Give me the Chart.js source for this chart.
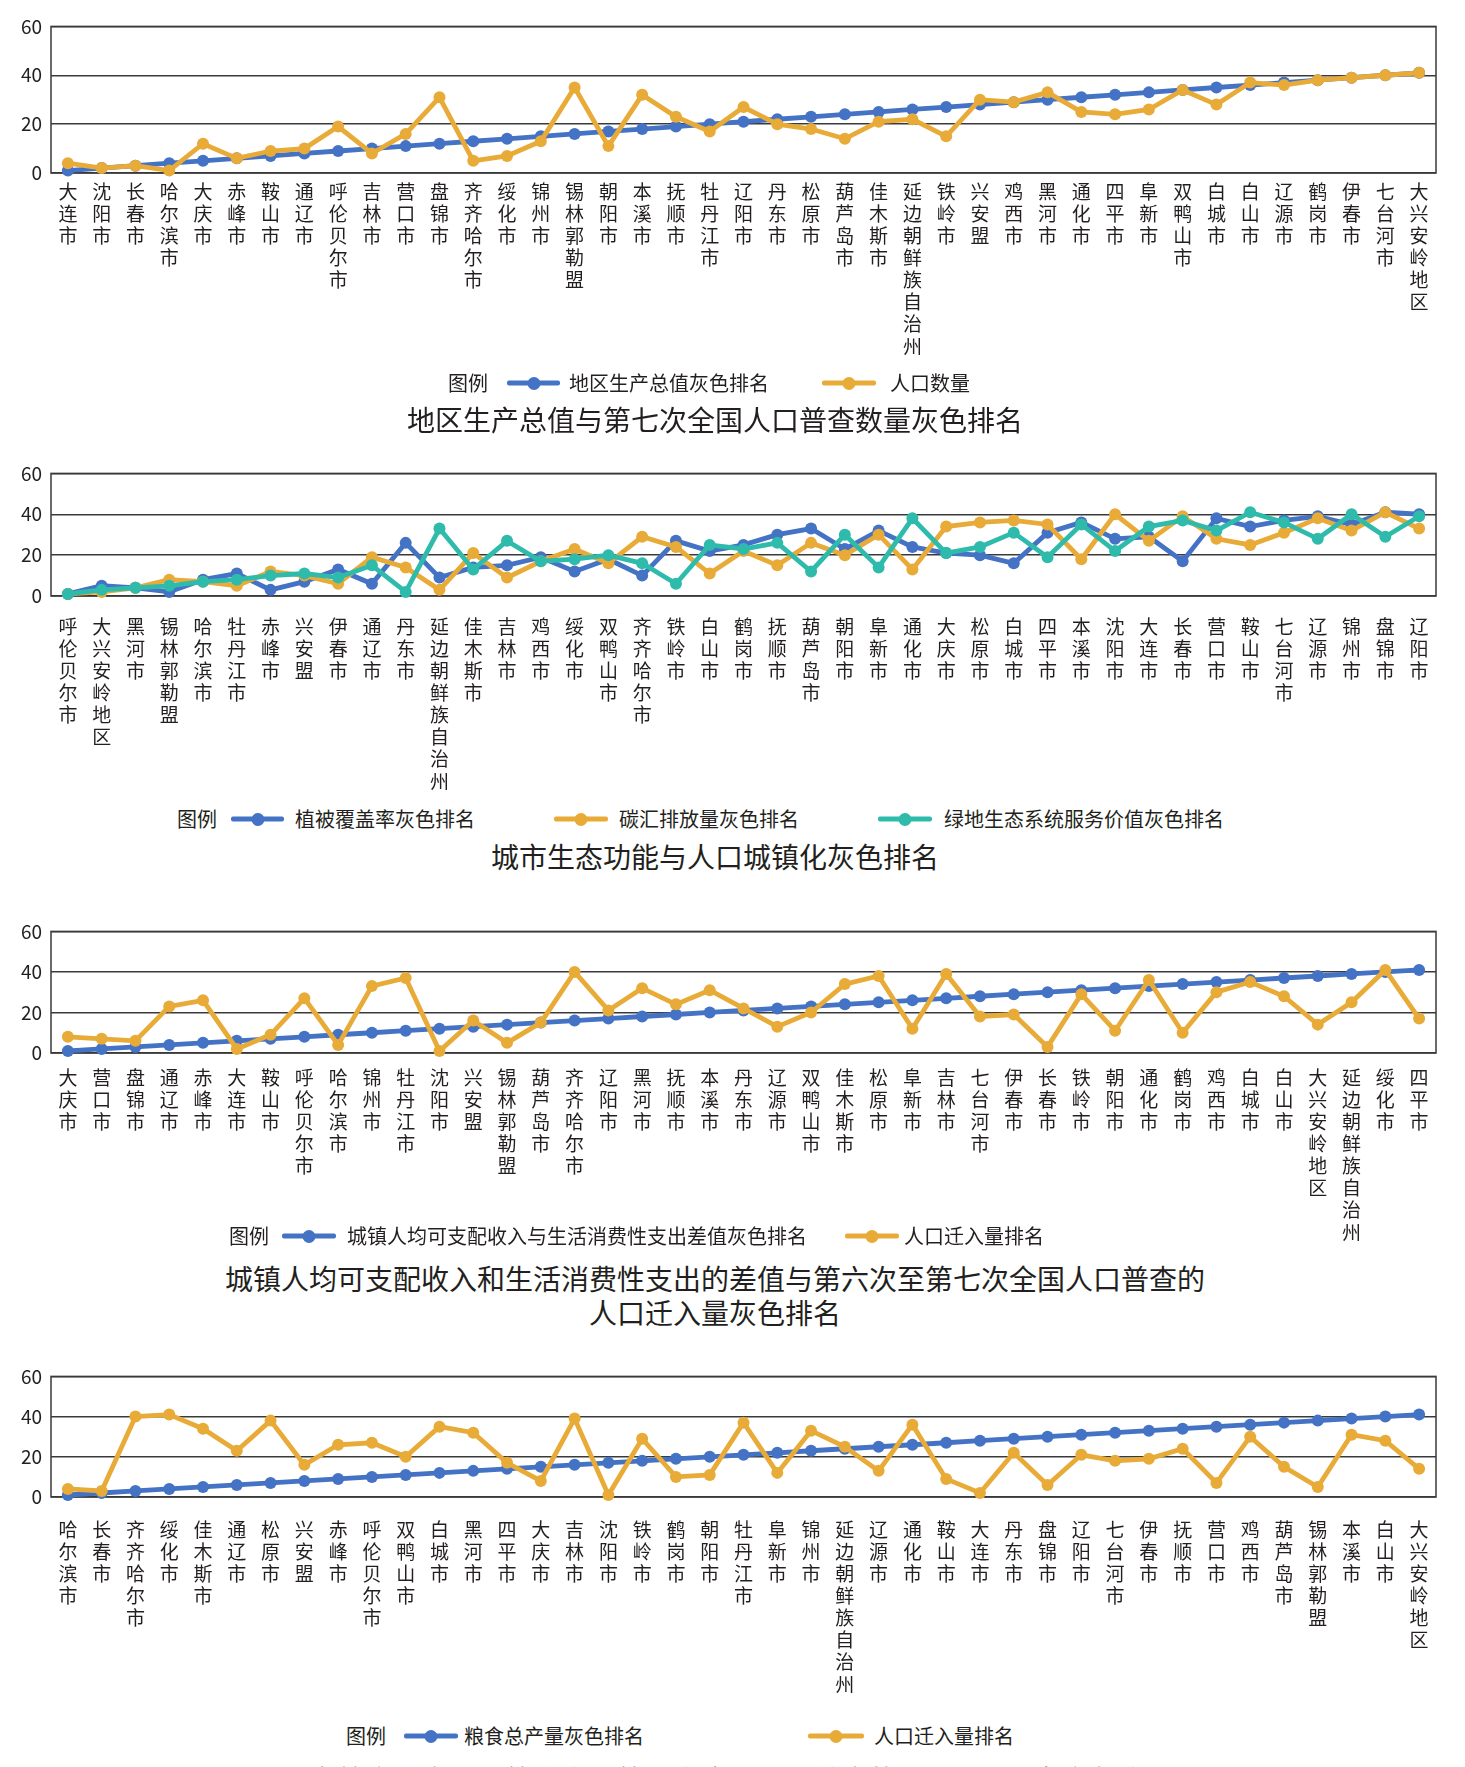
<!DOCTYPE html>
<html>
<head>
<meta charset="utf-8">
<script src="https://cdn.jsdelivr.net/npm/chart.js@4.4.1/dist/chart.umd.min.js"></script>
<style>
  html,body{margin:0;padding:0;}
  body{width:1465px;height:1767px;overflow:hidden;background:#fff;position:relative;
       font-family:'Noto Sans CJK SC','Noto Sans',sans-serif;color:#231f20;}
  canvas{position:absolute;left:0;}
  .t{position:absolute;font-size:28px;white-space:nowrap;transform:translate(-50%,-50%);line-height:1;}
  .lg{position:absolute;font-size:20px;white-space:nowrap;transform:translateY(-50%);line-height:1;}
  .mk{position:absolute;height:5px;transform:translateY(-50%);border-radius:2px;}
  .mk::after{content:'';position:absolute;left:50%;top:50%;width:13px;height:13px;border-radius:50%;
       background:inherit;transform:translate(-50%,-50%);}
</style>
</head>
<body>
<canvas id="c1"></canvas>
<canvas id="c2"></canvas>
<canvas id="c3"></canvas>
<canvas id="c4"></canvas>
<script>
// ---------- DATA ----------
const cities1 = ['大连市','沈阳市','长春市','哈尔滨市','大庆市','赤峰市','鞍山市','通辽市','呼伦贝尔市','吉林市','营口市','盘锦市','齐齐哈尔市','绥化市','锦州市','锡林郭勒盟','朝阳市','本溪市','抚顺市','牡丹江市','辽阳市','丹东市','松原市','葫芦岛市','佳木斯市','延边朝鲜族自治州','铁岭市','兴安盟','鸡西市','黑河市','通化市','四平市','阜新市','双鸭山市','白城市','白山市','辽源市','鹤岗市','伊春市','七台河市','大兴安岭地区'];
const gdpRank1 = [1,2,3,4,5,6,7,8,9,10,11,12,13,14,15,16,17,18,19,20,21,22,23,24,25,26,27,28,29,30,31,32,33,34,35,36,37,38,39,40,41];
const popRank1 = [4,2,3,1,12,6,9,10,19,8,16,31,5,7,13,35,11,32,23,17,27,20,18,14,21,22,15,30,29,33,25,24,26,34,28,37,36,38,39,40,41];

const cities2 = ['呼伦贝尔市','大兴安岭地区','黑河市','锡林郭勒盟','哈尔滨市','牡丹江市','赤峰市','兴安盟','伊春市','通辽市','丹东市','延边朝鲜族自治州','佳木斯市','吉林市','鸡西市','绥化市','双鸭山市','齐齐哈尔市','铁岭市','白山市','鹤岗市','抚顺市','葫芦岛市','朝阳市','阜新市','通化市','大庆市','松原市','白城市','四平市','本溪市','沈阳市','大连市','长春市','营口市','鞍山市','七台河市','辽源市','锦州市','盘锦市','辽阳市'];
const vegRank2 = [1,5,4,2,8,11,3,7,13,6,26,9,14,15,19,12,18,10,27,22,25,30,33,23,32,24,21,20,16,31,36,28,29,17,38,34,37,39,35,41,40];
const carbonRank2 = [1,2,4,8,7,5,12,10,6,19,14,3,21,9,17,23,16,29,24,11,22,15,26,20,30,13,34,36,37,35,18,40,27,39,28,25,31,38,32,41,33];
const greenRank2 = [1,3,4,5,7,8,10,11,9,15,2,33,13,27,17,18,20,16,6,25,23,26,12,30,14,38,21,24,31,19,35,22,34,37,32,41,36,28,40,29,39];

const cities3 = ['大庆市','营口市','盘锦市','通辽市','赤峰市','大连市','鞍山市','呼伦贝尔市','哈尔滨市','锦州市','牡丹江市','沈阳市','兴安盟','锡林郭勒盟','葫芦岛市','齐齐哈尔市','辽阳市','黑河市','抚顺市','本溪市','丹东市','辽源市','双鸭山市','佳木斯市','松原市','阜新市','吉林市','七台河市','伊春市','长春市','铁岭市','朝阳市','通化市','鹤岗市','鸡西市','白城市','白山市','大兴安岭地区','延边朝鲜族自治州','绥化市','四平市'];
const incomeRank3 = [1,2,3,4,5,6,7,8,9,10,11,12,13,14,15,16,17,18,19,20,21,22,23,24,25,26,27,28,29,30,31,32,33,34,35,36,37,38,39,40,41];
const migrRank3 = [8,7,6,23,26,2,9,27,4,33,37,1,16,5,15,40,21,32,24,31,22,13,20,34,38,12,39,18,19,3,29,11,36,10,30,35,28,14,25,41,17];

const cities4 = ['哈尔滨市','长春市','齐齐哈尔市','绥化市','佳木斯市','通辽市','松原市','兴安盟','赤峰市','呼伦贝尔市','双鸭山市','白城市','黑河市','四平市','大庆市','吉林市','沈阳市','铁岭市','鹤岗市','朝阳市','牡丹江市','阜新市','锦州市','延边朝鲜族自治州','辽源市','通化市','鞍山市','大连市','丹东市','盘锦市','辽阳市','七台河市','伊春市','抚顺市','营口市','鸡西市','葫芦岛市','锡林郭勒盟','本溪市','白山市','大兴安岭地区'];
const grainRank4 = [1,2,3,4,5,6,7,8,9,10,11,12,13,14,15,16,17,18,19,20,21,22,23,24,25,26,27,28,29,30,31,32,33,34,35,36,37,38,39,40,41];
const migrRank4 = [4,3,40,41,34,23,38,16,26,27,20,35,32,17,8,39,1,29,10,11,37,12,33,25,13,36,9,2,22,6,21,18,19,24,7,30,15,5,31,28,14];

const yTicks = [0,20,40,60];

// ---------- STYLE ----------
const BLUE = '#4472C4', ORANGE = '#E8AB38', TEAL = '#2FBBAB';
const FONT = "'Noto Sans CJK SC','Noto Sans',sans-serif";
Chart.defaults.font.family = FONT;
Chart.defaults.color = '#231f20';

const boxPlugin = {
  id: 'box',
  beforeDatasetsDraw(chart) {
    const a = chart.chartArea, ctx = chart.ctx;
    ctx.save();
    ctx.strokeStyle = '#3a3a3a';
    ctx.lineWidth = 1.5;
    ctx.strokeRect(a.left, a.top, a.right - a.left, a.bottom - a.top);
    ctx.restore();
  }
};

function ds(data, color, order) {
  return { data, borderColor: color, backgroundColor: color, pointBackgroundColor: color,
    pointBorderColor: color, borderWidth: 4.8, pointRadius: 6, pointBorderWidth: 0,
    tension: 0, order, clip: false };
}

function makeChart(id, top, plotH, cities, datasets, tickPad) {
  const padTop = 15, axisH = 205;
  const cv = document.getElementById(id);
  cv.width = 1465; cv.height = padTop + plotH + axisH;
  cv.style.width = '1465px'; cv.style.height = cv.height + 'px';
  cv.style.top = (top - padTop) + 'px';
  new Chart(cv, {
    type: 'line',
    data: { labels: cities.map(s => Array.from(s)), datasets },
    plugins: [boxPlugin],
    options: {
      responsive: false, animation: false, devicePixelRatio: 1,
      layout: { padding: { top: padTop, right: 29, left: 0, bottom: 0 } },
      plugins: { legend: { display: false }, tooltip: { enabled: false } },
      scales: {
        x: {
          offset: true,
          grid: { display: false, drawTicks: false },
          border: { display: false },
          ticks: { autoSkip: false, maxRotation: 0, minRotation: 0, padding: tickPad,
                   color: '#231f20', font: { size: 19, lineHeight: 1.16 } },
          afterFit(s) { s.height = axisH; }
        },
        y: {
          min: 0, max: 60,
          afterBuildTicks(s) { s.ticks = yTicks.map(v => ({ value: v })); },
          ticks: { padding: 9, color: '#231f20', font: { size: 19 } },
          grid: { color: '#3a3a3a', lineWidth: 1.5, drawTicks: false },
          border: { display: false },
          afterFit(s) { s.width = 51; }
        }
      }
    }
  });
}

makeChart('c1', 21, 152, cities1, [ds(gdpRank1, BLUE, 2), ds(popRank1, ORANGE, 1)], 8);
makeChart('c2', 468, 128, cities2, [ds(vegRank2, BLUE, 3), ds(carbonRank2, ORANGE, 2), ds(greenRank2, TEAL, 1)], 20);
makeChart('c3', 926, 127, cities3, [ds(incomeRank3, BLUE, 2), ds(migrRank3, ORANGE, 1)], 14);
makeChart('c4', 1371, 126, cities4, [ds(grainRank4, BLUE, 2), ds(migrRank4, ORANGE, 1)], 22);

// ---------- LEGENDS & TITLES ----------
function addText(cls, text, x, y) {
  const d = document.createElement('div');
  d.className = cls; d.textContent = text;
  d.style.left = x + 'px'; d.style.top = y + 'px';
  document.body.appendChild(d);
}
function addMarker(x1, x2, y, color) {
  const d = document.createElement('div');
  d.className = 'mk'; d.style.left = x1 + 'px'; d.style.width = (x2 - x1) + 'px';
  d.style.top = y + 'px'; d.style.background = color;
  document.body.appendChild(d);
}
// chart 1
addText('lg', '图例', 448, 383);
addMarker(507, 560, 383, BLUE); addText('lg', '地区生产总值灰色排名', 569, 383);
addMarker(822, 876, 383, ORANGE); addText('lg', '人口数量', 890, 383);
addText('t', '地区生产总值与第七次全国人口普查数量灰色排名', 715, 419);
// chart 2
addText('lg', '图例', 177, 819);
addMarker(231, 284, 819, BLUE); addText('lg', '植被覆盖率灰色排名', 295, 819);
addMarker(554, 608, 819, ORANGE); addText('lg', '碳汇排放量灰色排名', 619, 819);
addMarker(878, 932, 819, TEAL); addText('lg', '绿地生态系统服务价值灰色排名', 944, 819);
addText('t', '城市生态功能与人口城镇化灰色排名', 715, 856);
// chart 3
addText('lg', '图例', 229, 1236);
addMarker(282, 336, 1236, BLUE); addText('lg', '城镇人均可支配收入与生活消费性支出差值灰色排名', 347, 1236);
addMarker(845, 899, 1236, ORANGE); addText('lg', '人口迁入量排名', 904, 1236);
addText('t', '城镇人均可支配收入和生活消费性支出的差值与第六次至第七次全国人口普查的', 715, 1278);
addText('t', '人口迁入量灰色排名', 715, 1312);
// chart 4
addText('lg', '图例', 346, 1736);
addMarker(404, 458, 1736, BLUE); addText('lg', '粮食总产量灰色排名', 464, 1736);
addMarker(808, 864, 1736, ORANGE); addText('lg', '人口迁入量排名', 874, 1736);
addText('t', '城市粮食总产量与第六次至第七次全国人口普查的人口迁入量灰色排名', 715, 1779);
</script>
</body>
</html>
